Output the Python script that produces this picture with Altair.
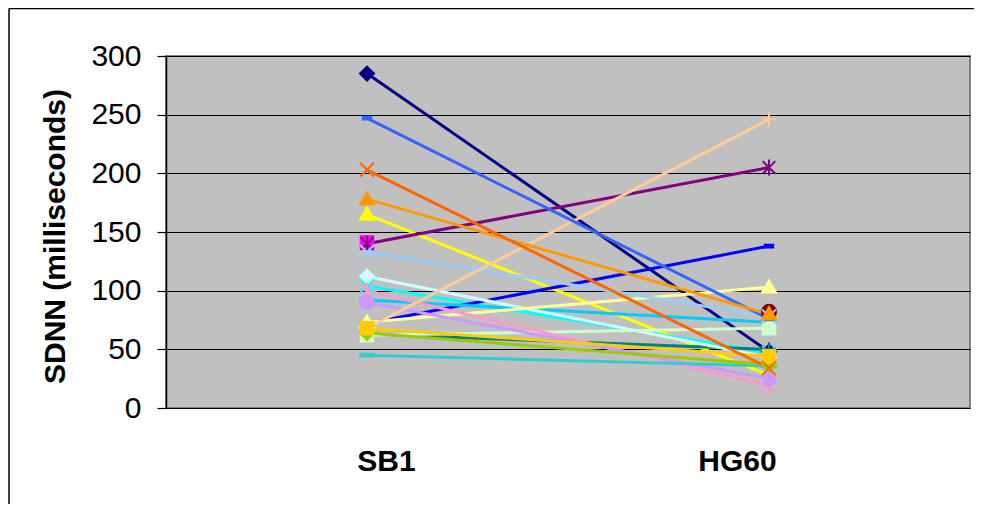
import altair as alt
import pandas as pd

conditions = ["SB1", "HG60"]
series = [f"Subject {i}" for i in range(1, 23)]
colors = ["#000080", "#FF00FF", "#FFFF00", "#00FFFF", "#800080", "#800000",
          "#008080", "#0000FF", "#00CCFF", "#CCFFFF", "#CCFFCC", "#FFFF99",
          "#99CCFF", "#FF99CC", "#CC99FF", "#FFCC99", "#3366FF", "#33CCCC",
          "#99CC00", "#FFCC00", "#FF9900", "#FF6600"]
markers = ["diamond", "square", "triangle", "x", "asterisk", "circle", "plus",
           "dash", "longbar", "diamond", "square", "triangle", "x", "asterisk",
           "circle", "plus", "dash", "longbar", "diamond", "square", "triangle", "x"]
sb1 = [285, 141, 165, 104, 140, None, 63, 72, 92, 112, 62, 73, 133, 100, 90,
       68, 247, 45, 64, 68, 178, 203]
hg60 = [48, None, 28, 47, 205, 82, 50, 138, 73, 43, 68, 103, 78, 19, 25, 246,
        76, 36, 37, 44, 80, 34]

marker_names = ["diamond", "square", "triangle", "x", "asterisk", "circle",
                "plus", "dash", "longbar"]
marker_paths = [
    "M0,-1L1,0L0,1L-1,0Z",
    "M-0.9,-0.9H0.9V0.9H-0.9Z",
    "M0,-1L1,0.75H-1Z",
    "M-1,-1L1,1M-1,1L1,-1",
    "M-0.9,-0.9L0.9,0.9M-0.9,0.9L0.9,-0.9M0,-1.15L0,1.15",
    "circle",
    "M-1,0H1M0,-1V1",
    "M-0.6,-0.2H0.6V0.2H-0.6Z",
    "M-0.95,-0.2H0.95V0.2H-0.95Z",
]

rows = []
for i, name in enumerate(series):
    for c, v in zip(conditions, [sb1[i], hg60[i]]):
        if v is not None:
            rows.append({"series": name, "idx": i, "marker": markers[i],
                         "cond": c, "value": v})
df = pd.DataFrame(rows)

FONT = "Liberation Sans"
cscale = alt.Scale(domain=series, range=colors)

x_enc = alt.X(
    "cond:N",
    scale=alt.Scale(type="point", domain=conditions, padding=0.5),
    title=None,
    axis=alt.Axis(
        domain=False, ticks=False, grid=False, labelAngle=0,
        labelFont=FONT, labelFontSize=30, labelFontWeight="bold",
        labelColor="black", labelPadding=38,
        labelOffset={"condition": {"test": "datum.value === 'SB1'", "value": 19},
                     "value": -32},
    ),
)
y_enc = alt.Y(
    "value:Q",
    scale=alt.Scale(domain=[0, 300], nice=False),
    axis=alt.Axis(
        values=[0, 50, 100, 150, 200, 250, 300], format="d",
        domain=True, domainColor="black", domainWidth=1.5,
        ticks=True, tickColor="black", tickSize=9, tickWidth=1.2,
        grid=True, gridColor="black", gridWidth=1.2, gridOpacity=1,
        labelFont=FONT, labelFontSize=30, labelColor="black", labelPadding=16,
        title="SDNN (milliseconds)", titleFont=FONT, titleFontSize=30,
        titleFontWeight="bold", titleColor="black", titleAngle=270,
        titleX=-111, titleY=180, titleAlign="center", titleBaseline="middle",
    ),
)

base = alt.Chart(df).encode(x=x_enc, y=y_enc)

lines = base.mark_line(strokeWidth=3).encode(
    color=alt.Color("series:N", scale=cscale, legend=None),
    detail="series:N",
)

points = base.mark_point(filled=True, size=196, strokeWidth=2, opacity=1).encode(
    shape=alt.Shape("marker:N", scale=alt.Scale(domain=marker_names, range=marker_paths), legend=None),
    fill=alt.Fill("series:N", scale=cscale, legend=None),
    stroke=alt.Stroke("series:N", scale=cscale, legend=None),
    order=alt.Order("idx:Q"),
)

one = pd.DataFrame({"a": [0]})
frame_top = alt.Chart(one).mark_rule(color="black", strokeWidth=1.5).encode(
    x=alt.value(-157), x2=alt.value(1000), y=alt.value(-47.5)
)
frame_left = alt.Chart(one).mark_rule(color="black", strokeWidth=1.5).encode(
    x=alt.value(-157), y=alt.value(-47.5), y2=alt.value(600)
)

chart = alt.layer(frame_top, frame_left, lines, points).properties(
    width=804, height=352,
    background="white",
    autosize=alt.AutoSizeParams(type="none"),
    padding={"left": 158, "top": 48, "right": 4, "bottom": 96},
).configure_view(
    fill="#C0C0C0", stroke="#808080", strokeWidth=2
)

chart.save("out.html", embed_options={"renderer": "svg", "actions": False})
